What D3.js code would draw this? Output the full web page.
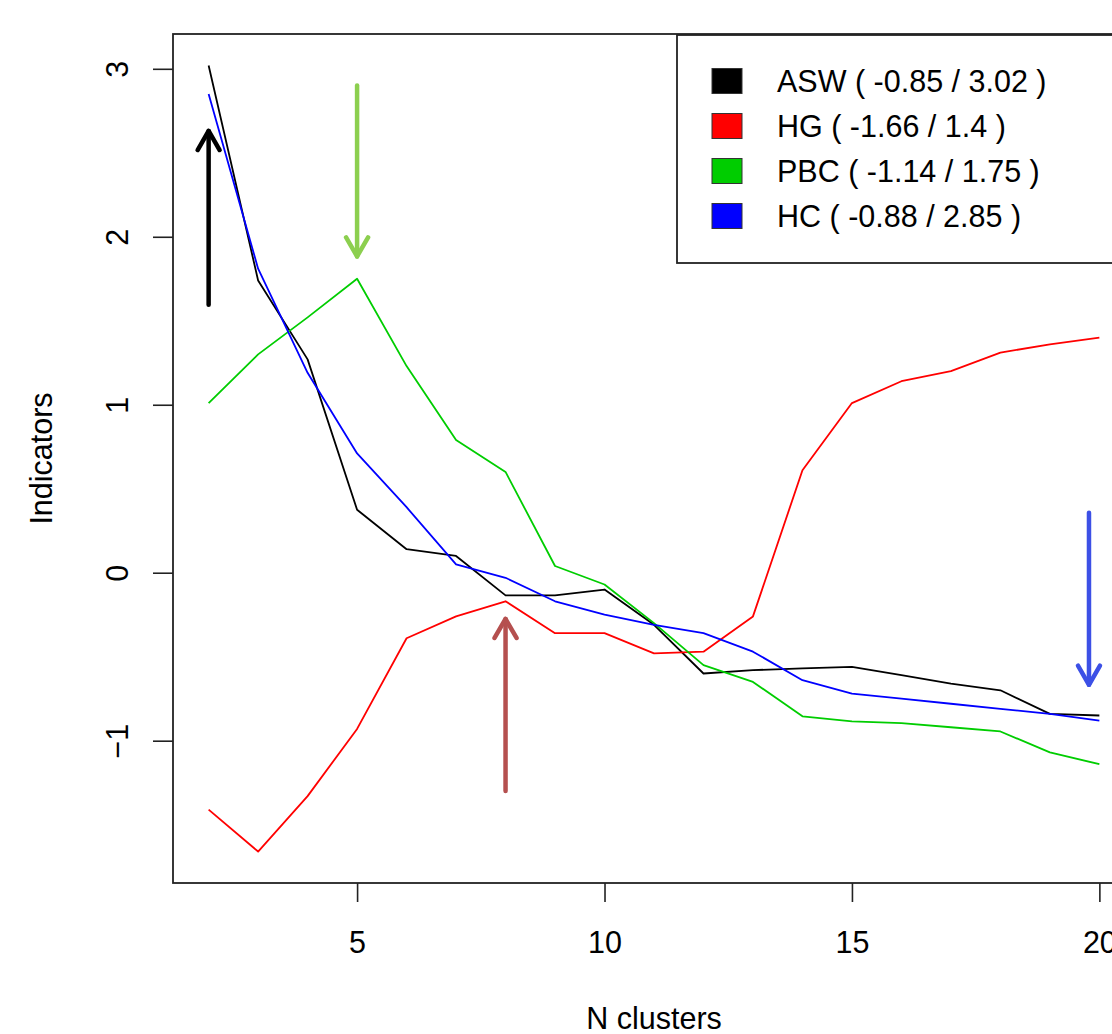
<!DOCTYPE html>
<html>
<head>
<meta charset="utf-8">
<script src="https://cdn.jsdelivr.net/npm/d3@7"></script>
<style>
    body { margin: 0; background: white; }
    text { font-family: "Liberation Sans", Arial, sans-serif; fill: black; }
</style>
</head>
<body>
<div id="chart"></div>
<script>
//Data
var nClusters = [2, 3, 4, 5, 6, 7, 8, 9, 10, 11, 12, 13, 14, 15, 16, 17, 18, 19, 20];
var seriesNames = ["ASW", "HG", "PBC", "HC"];
var seriesColors = ["black", "#ff0000", "#00cd00", "#0000ff"];
var aswValues = [3.02, 1.74, 1.27, 0.375, 0.14, 0.10, -0.135, -0.135, -0.10, -0.31, -0.60, -0.58, -0.57, -0.56, -0.61, -0.66, -0.70, -0.84, -0.85];
var hgValues = [-1.41, -1.66, -1.33, -0.93, -0.39, -0.26, -0.17, -0.36, -0.36, -0.48, -0.47, -0.26, 0.61, 1.01, 1.14, 1.20, 1.31, 1.36, 1.40];
var pbcValues = [1.01, 1.30, 1.52, 1.75, 1.23, 0.79, 0.60, 0.04, -0.07, -0.30, -0.55, -0.65, -0.855, -0.885, -0.895, -0.92, -0.945, -1.07, -1.14];
var hcValues = [2.85, 1.81, 1.19, 0.71, 0.39, 0.05, -0.03, -0.17, -0.25, -0.31, -0.36, -0.47, -0.64, -0.72, -0.75, -0.78, -0.81, -0.84, -0.88];
var xTicks = [5, 10, 15, 20];
var yTicks = [-1, 0, 1, 2, 3];

//Arrows marking the chosen number of clusters (x, from, to)
var arrowX = [2, 5, 8, 19.79];
var arrowFrom = [1.595, 2.90, -1.30, 0.357];
var arrowTo = [2.63, 1.883, -0.275, -0.667];
var arrowColors = ["black", "#8ccf4f", "#b5504f", "#3c50e6"];

var svgWidth = 1112;
var svgHeight = 1034;

//Plot region (R style, right part runs off the picture)
var plot = { left: 173, right: 1135, top: 34, bottom: 883 };
var fontSize = 30.5;

var svg = d3.select("#chart")
    .append("svg")
    .attr("width", svgWidth)
    .attr("height", svgHeight);

//Scales with R's 4% padding
var xScale = d3.scaleLinear()
    .domain([1.28, 20.72])
    .range([plot.left, plot.right]);

var yScale = d3.scaleLinear()
    .domain([-1.8472, 3.2072])
    .range([plot.bottom, plot.top]);

var allSeries = [aswValues, hgValues, pbcValues, hcValues];

//Lines
var line = d3.line()
    .x((d, i) => xScale(nClusters[i]))
    .y(d => yScale(d));

svg.append("g")
    .selectAll("path")
    .data(allSeries)
    .enter()
    .append("path")
    .attr("d", d => line(d))
    .attr("fill", "none")
    .attr("stroke", (d, i) => seriesColors[i])
    .attr("stroke-width", 1.8)
    .attr("stroke-linejoin", "round");

//Arrows
var headLen = 22;
var headAngle = Math.PI / 6;
arrowX.forEach((ax, i) => {
    var px = xScale(ax);
    var y0 = yScale(arrowFrom[i]);
    var y1 = yScale(arrowTo[i]);
    var dir = y1 < y0 ? 1 : -1;
    var g = svg.append("g")
        .attr("stroke", arrowColors[i])
        .attr("stroke-width", 4.5)
        .attr("stroke-linecap", "round")
        .attr("stroke-linejoin", "round")
        .attr("fill", "none");
    g.append("line")
        .attr("x1", px).attr("y1", y0)
        .attr("x2", px).attr("y2", y1);
    var dx = headLen * Math.sin(headAngle);
    var dy = headLen * Math.cos(headAngle) * dir;
    g.append("path")
        .attr("d", `M${px - dx},${y1 + dy}L${px},${y1}L${px + dx},${y1 + dy}`);
});

//Plot box
svg.append("rect")
    .attr("x", plot.left)
    .attr("y", plot.top)
    .attr("width", plot.right - plot.left)
    .attr("height", plot.bottom - plot.top)
    .attr("fill", "none")
    .attr("stroke", "#222")
    .attr("stroke-width", 1.8);

//X axis
var xAxis = svg.append("g")
    .attr("transform", `translate(0, ${plot.bottom})`)
    .call(d3.axisBottom(xScale).tickValues(xTicks).tickSize(19).tickFormat(d3.format("d")));
xAxis.select(".domain").remove();
xAxis.selectAll("line").attr("stroke", "#222").attr("stroke-width", 1.6);
xAxis.selectAll("text")
    .attr("y", 70)
    .attr("dy", 0)
    .attr("fill", "black")
    .style("font-size", fontSize + "px")
    .style("font-family", "'Liberation Sans', Arial, sans-serif");

//Y axis with rotated labels
var yAxis = svg.append("g")
    .attr("transform", `translate(${plot.left}, 0)`)
    .call(d3.axisLeft(yScale).tickValues(yTicks).tickSize(20).tickFormat(d3.format("d")));
yAxis.select(".domain").remove();
yAxis.selectAll("line").attr("stroke", "#222").attr("stroke-width", 1.6);
yAxis.selectAll("text")
    .attr("x", 0)
    .attr("dy", 0)
    .attr("transform", "translate(-45, 0) rotate(-90)")
    .attr("text-anchor", "middle")
    .attr("fill", "black")
    .style("font-size", fontSize + "px")
    .style("font-family", "'Liberation Sans', Arial, sans-serif");

//Axis titles
svg.append("text")
    .attr("x", (plot.left + plot.right) / 2)
    .attr("y", 1029)
    .attr("text-anchor", "middle")
    .style("font-size", fontSize + "px")
    .text("N clusters");

svg.append("text")
    .attr("transform", `translate(52, ${(plot.top + plot.bottom) / 2}) rotate(-90)`)
    .attr("text-anchor", "middle")
    .style("font-size", fontSize + "px")
    .text("Indicators");

//Legend
var legend = svg.append("g");
legend.append("rect")
    .attr("x", 677)
    .attr("y", plot.top + 1)
    .attr("width", plot.right - 677)
    .attr("height", 228)
    .attr("fill", "white")
    .attr("stroke", "#222")
    .attr("stroke-width", 1.8);

seriesNames.forEach((name, i) => {
    var rowY = 81 + i * 45;
    var vals = allSeries[i];
    legend.append("rect")
        .attr("x", 712)
        .attr("y", rowY - 12.5)
        .attr("width", 30)
        .attr("height", 25)
        .attr("fill", seriesColors[i])
        .attr("stroke", "#333")
        .attr("stroke-width", 1);
    legend.append("text")
        .attr("x", 777)
        .attr("y", rowY + 11)
        .style("font-size", fontSize + "px")
        .text(`${name} ( ${d3.min(vals)} / ${d3.max(vals)} )`);
});
</script>
</body>
</html>
